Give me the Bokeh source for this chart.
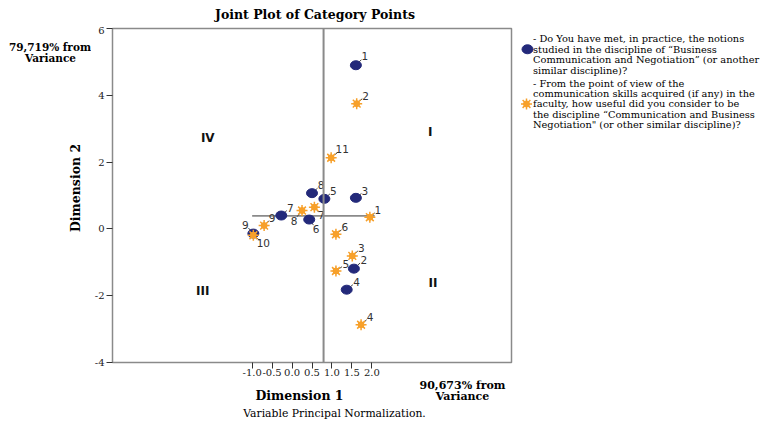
from bokeh.plotting import figure
from bokeh.models import Range1d, FixedTicker, Span, Label, ColumnDataSource
from bokeh.layouts import row, column
from bokeh.embed import file_html
from bokeh.resources import INLINE
from bokeh.core.properties import value
import math

# ---------------- data ----------------
TITLE = "Joint Plot of Category Points"

q1_labels = ["1", "2", "3", "4", "5", "6", "7", "8", "9"]
q1_x = [1.60, 1.55, 1.60, 1.37, 0.81, 0.43, -0.27, 0.50, -0.97]
q1_y = [4.90, -1.19, 0.93, -1.82, 0.90, 0.28, 0.40, 1.07, -0.14]

q2_labels = ["1", "2", "3", "4", "5", "6", "7", "8", "9", "10", "11"]
q2_x = [1.95, 1.62, 1.51, 1.73, 1.10, 1.10, 0.56, 0.25, -0.70, -0.97, 0.98]
q2_y = [0.35, 3.75, -0.81, -2.87, -1.26, -0.16, 0.65, 0.55, 0.10, -0.19, 2.13]

x_ticks = [-1.0, -0.5, 0.0, 0.5, 1.0, 1.5, 2.0]
x_tick_labels = ["-1.0", "-0.5", "0.0", "0.5", "1.0", "1.5", "2.0"]
y_ticks = [-4, -2, 0, 2, 4, 6]
y_tick_labels = ["-4", "-2", "0", "2", "4", "6"]

ref_x = 0.79
ref_y = 0.39
ref_h_span = [-1.0, 2.07]

quadrants = ["I", "II", "III", "IV"]

dim1_title = "Dimension 1"
dim2_title = "Dimension 2"
dim1_var = ["90,673% from", "Variance"]
dim2_var = ["79,719% from", "Variance"]
footnote = "Variable Principal Normalization."

legend_q1 = ["- Do You have met, in practice, the notions",
             "studied in the discipline of \u201cBusiness",
             "Communication and Negotiation\u201d (or another",
             "similar discipline)?"]
legend_q2 = ["- From the point of view of the",
             "communication skills acquired (if any) in the",
             "faculty, how useful did you consider to be",
             "the discipline \u201cCommunication and Business",
             "Negotiation\" (or other similar discipline)?"]

# ---------------- style / layout ----------------
BLUE = "#23297a"
ORANGE = "#f7a02a"
GRAY = "#8a8a8a"
SERIF = "DejaVu Serif"
SANS = "DejaVu Sans"

# label offsets (screen px) for category labels
q1_dx = [9, 10, 9, 10, 9, 7, 9, 9, -8]
q1_dy = [-9, -9, -7, -8, -8, 9, -8, -8, -9]
q2_dx = [8, 9, 9, 9, 10, 9, 7, -8, 8, 10, 11]
q2_dy = [-7, -8, -8, -8, -7, -7, 8, 10, -8, 8, -9]

TOTAL_W = 767
TITLE_H = 26
MID_H = 354
BOTTOM_H = 42
LEFT_W = 91
MAIN_W = 422
LEG_W = TOTAL_W - LEFT_W - MAIN_W

X0, X1, Y0, Y1 = -4.5, 5.5, -4, 6
FRAME_L, FRAME_T, FRAME_W, FRAME_H = 109, 28, 402, 334
PXX = FRAME_W / (X1 - X0)
PXY = FRAME_H / (Y1 - Y0)


def panel(w, h):
    f = figure(width=w, height=h, x_range=Range1d(0, w), y_range=Range1d(0, h),
               output_backend="svg", toolbar_location=None,
               x_axis_location=None, y_axis_location=None,
               min_border_left=0, min_border_right=0, min_border_top=0, min_border_bottom=0)
    f.grid.visible = False
    f.outline_line_color = None
    f.background_fill_color = "white"
    f.border_fill_color = "white"
    return f


def ptext(f, h, xs, ys, texts, size, bold=False, align="center", angle=0.0, font=SERIF):
    f.text(xs, [h - y for y in ys], text=texts, text_font=value(font),
           text_font_style="bold" if bold else "normal", text_font_size=size,
           text_color="#000000", text_align=align, text_baseline="middle", angle=angle)


# ---------------- title strip ----------------
top = panel(TOTAL_W, TITLE_H)
ptext(top, TITLE_H, [314.5], [14], [TITLE], "12.5px", bold=True)

# ---------------- left strip ----------------
left = panel(LEFT_W, MID_H)
ptext(left, MID_H, [49.5, 50], [45.5 - TITLE_H, 57.5 - TITLE_H], dim2_var, "10.5px", bold=True)
ptext(left, MID_H, [75], [195 - TITLE_H], [dim2_title], "12.5px", bold=True, angle=math.pi / 2)

# ---------------- main plot ----------------
p = figure(width=MAIN_W, height=MID_H, x_range=Range1d(X0, X1), y_range=Range1d(Y0, Y1),
           output_backend="svg", toolbar_location=None,
           min_border_left=18, min_border_right=2, min_border_top=2, min_border_bottom=18)
p.grid.visible = False
p.outline_line_color = GRAY
p.outline_line_width = 1.5
p.background_fill_color = "white"
p.border_fill_color = "white"

for ax, ticks, labels in ((p.xaxis[0], x_ticks, x_tick_labels), (p.yaxis[0], y_ticks, y_tick_labels)):
    ax.ticker = FixedTicker(ticks=ticks)
    ax.major_label_overrides = {t: l for t, l in zip(ticks, labels)}
    ax.axis_line_color = None
    ax.major_tick_out = 6
    ax.major_tick_in = 0
    ax.minor_tick_out = 0
    ax.minor_tick_in = 0
    ax.major_tick_line_color = "#333333"
    ax.major_label_text_font = SERIF
    ax.major_label_text_font_size = "10px"
    ax.major_label_text_color = "#222222"
p.xaxis.major_label_standoff = 0
p.yaxis.major_label_standoff = 2

# reference lines
p.add_layout(Span(location=ref_x, dimension="height", line_color=GRAY, line_width=2))
p.line(ref_h_span, [ref_y, ref_y], line_color=GRAY, line_width=1.8)


def leaders(xs, ys, dxs, dys):
    x0 = [x + 0.35 * dx / PXX for x, dx in zip(xs, dxs)]
    y0 = [y - 0.35 * dy / PXY for y, dy in zip(ys, dys)]
    x1 = [x + 0.62 * dx / PXX for x, dx in zip(xs, dxs)]
    y1 = [y - 0.62 * dy / PXY for y, dy in zip(ys, dys)]
    p.segment(x0, y0, x1, y1, line_color="#444444", line_width=1)


leaders(q1_x, q1_y, q1_dx, q1_dy)
leaders(q2_x, q2_y, q2_dx, q2_dy)

src1 = ColumnDataSource(dict(x=q1_x, y=q1_y, t=q1_labels, dx=q1_dx, dy=q1_dy))
src2 = ColumnDataSource(dict(x=q2_x, y=q2_y, t=q2_labels, dx=q2_dx, dy=q2_dy))

p.ellipse("x", "y", width=11, height=9, width_units="screen", height_units="screen",
          fill_color=BLUE, line_color=BLUE, source=src1)
p.scatter("x", "y", marker="circle", size=6, fill_color=ORANGE, line_color=ORANGE, source=src2)
p.scatter("x", "y", marker="asterisk", size=11, line_color=ORANGE, line_width=1.5, source=src2)

for src in (src1, src2):
    p.text("x", "y", text="t", x_offset="dx", y_offset="dy", source=src,
           text_font=value(SANS), text_font_size="10.5px", text_color="#333333",
           text_align="center", text_baseline="middle")


def sx(px):
    return X0 + (px - FRAME_L) / PXX


def sy(py):
    return Y1 - (py - FRAME_T) / PXY


quad_pos = {"I": (429, 131), "II": (432, 282), "III": (200, 290), "IV": (205, 137)}
for q in quadrants:
    px, py = quad_pos[q]
    p.add_layout(Label(x=sx(px), y=sy(py), text=q, text_font=SANS, text_font_style="bold",
                       text_font_size="12px", text_color="#111111",
                       text_align="center", text_baseline="middle"))

# ---------------- legend strip ----------------
leg = panel(LEG_W, MID_H)
LX = LEFT_W + MAIN_W
q1_line_y = [37, 48, 59, 70]
q2_line_y = [84, 95, 106, 117, 128]
ptext(leg, MID_H, [532.5 - LX] * len(legend_q1), [y - TITLE_H for y in q1_line_y], legend_q1,
      "9.8px", align="left")
ptext(leg, MID_H, [532.5 - LX] * len(legend_q2), [y - TITLE_H for y in q2_line_y], legend_q2,
      "9.8px", align="left")
leg.ellipse([527 - LX], [MID_H - (48 - TITLE_H)], width=11, height=9,
            width_units="screen", height_units="screen", fill_color=BLUE, line_color=BLUE)
leg.scatter([526 - LX], [MID_H - (106 - TITLE_H)], marker="circle", size=6,
            fill_color=ORANGE, line_color=ORANGE)
leg.scatter([526 - LX], [MID_H - (106 - TITLE_H)], marker="asterisk", size=11,
            line_color=ORANGE, line_width=1.5)

# ---------------- bottom strip ----------------
BY = TITLE_H + MID_H
bot = panel(TOTAL_W, BOTTOM_H)
ptext(bot, BOTTOM_H, [462, 462], [385 - BY, 396 - BY], dim1_var, "11px", bold=True)
ptext(bot, BOTTOM_H, [299], [395 - BY], [dim1_title], "12.5px", bold=True)
ptext(bot, BOTTOM_H, [334], [413 - BY], [footnote], "10.8px")

layout = column(top, row(left, p, leg), bot)
open("out.html", "w").write(file_html(layout, INLINE))
